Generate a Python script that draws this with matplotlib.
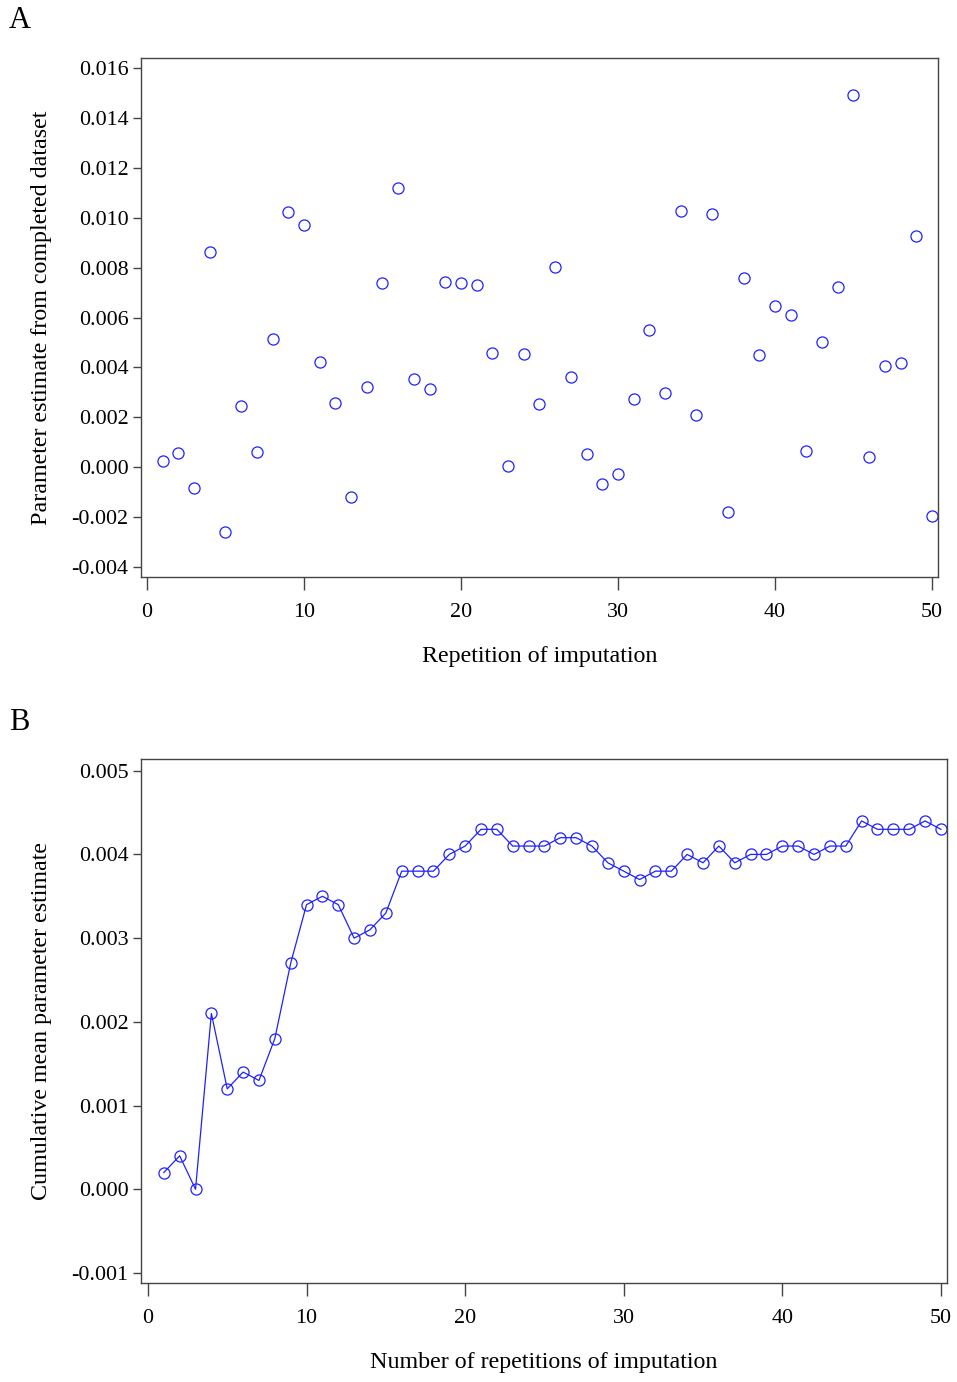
import numpy as np
import matplotlib
matplotlib.use("Agg")
import matplotlib.pyplot as plt
from matplotlib.ticker import FormatStrFormatter

plt.rcParams['font.family'] = ['Liberation Serif', 'DejaVu Serif']
plt.rcParams['axes.unicode_minus'] = False

# panel A: estimate from each completed dataset
reps = np.arange(1, 51)
estimates = [0.00024, 0.00056, -0.00084, 0.00863, -0.0026, 0.00245, 0.0006, 0.00514, 0.01024, 0.00972,
             0.00422, 0.00257, -0.0012, 0.00321, 0.00739, 0.0112, 0.00353, 0.00313, 0.00743, 0.00739,
             0.0073, 0.00458, 0.00004, 0.00454, 0.00253, 0.00803, 0.00361, 0.00052, -0.00068, -0.00028,
             0.00273, 0.0055, 0.00297, 0.01028, 0.00209, 0.01016, -0.0018, 0.0076, 0.0045, 0.00647,
             0.0061, 0.00064, 0.00502, 0.00723, 0.0149, 0.0004, 0.00406, 0.00418, 0.00928, -0.00197]

# panel B: cumulative mean
cum_mean = [0.0002, 0.0004, 0.0000, 0.0021, 0.0012, 0.0014, 0.0013, 0.0018, 0.0027, 0.0034,
            0.0035, 0.0034, 0.0030, 0.0031, 0.0033, 0.0038, 0.0038, 0.0038, 0.0040, 0.0041,
            0.0043, 0.0043, 0.0041, 0.0041, 0.0041, 0.0042, 0.0042, 0.0041, 0.0039, 0.0038,
            0.0037, 0.0038, 0.0038, 0.0040, 0.0039, 0.0041, 0.0039, 0.0040, 0.0040, 0.0041,
            0.0041, 0.0040, 0.0041, 0.0041, 0.0044, 0.0043, 0.0043, 0.0043, 0.0044, 0.0043]

x_ticks = [0, 10, 20, 30, 40, 50]
yticks_a = np.arange(-0.004, 0.0161, 0.002)
yticks_b = np.arange(-0.001, 0.0051, 0.001)

BLUE = '#2020ff'
FS = 15.8
LFS = 17.3

fig = plt.figure(figsize=(9.57, 13.82), dpi=100)
axA = fig.add_axes([0.1473, 0.5825, 0.8328, 0.3755])
axB = fig.add_axes([0.1473, 0.0716, 0.8422, 0.3792])


def style(ax):
    for s in ax.spines.values():
        s.set_color('#444444')
        s.set_linewidth(1.0)
    ax.tick_params(axis='x', length=9, width=1, color='#444444', labelsize=FS, pad=10)
    ax.tick_params(axis='y', length=6, width=1, color='#444444', labelsize=FS, pad=3)
    ax.set_xticks(x_ticks)
    ax.yaxis.set_major_formatter(FormatStrFormatter('%.3f'))


axA.plot(reps, estimates, 'o', mfc='none', mec=BLUE, ms=8, mew=0.9)
axA.set_xlim(-0.38, 50.38)
axA.set_ylim(-0.0044, 0.0164)
axA.set_yticks(yticks_a)
style(axA)
axA.set_xlabel('Repetition of imputation', fontsize=LFS, labelpad=17)
axA.set_ylabel('Parameter estimate from completed dataset', fontsize=LFS, labelpad=14)

axB.plot(reps, cum_mean, '-o', color=BLUE, mfc='none', mec=BLUE, ms=8, mew=0.9, lw=0.9)
axB.set_xlim(-0.44, 50.38)
axB.set_ylim(-0.00112, 0.00514)
axB.set_yticks(yticks_b)
style(axB)
axB.set_xlabel('Number of repetitions of imputation', fontsize=LFS, labelpad=17)
axB.set_ylabel('Cumulative mean parameter estimate', fontsize=LFS, labelpad=14)

fig.text(9 / 957, 1 - 20 / 1382, 'A', fontsize=22, va='center', ha='left')
fig.text(9 / 957, 1 - 722 / 1382, 'B', fontsize=22, va='center', ha='left')

fig.savefig('out.png', dpi=100)
